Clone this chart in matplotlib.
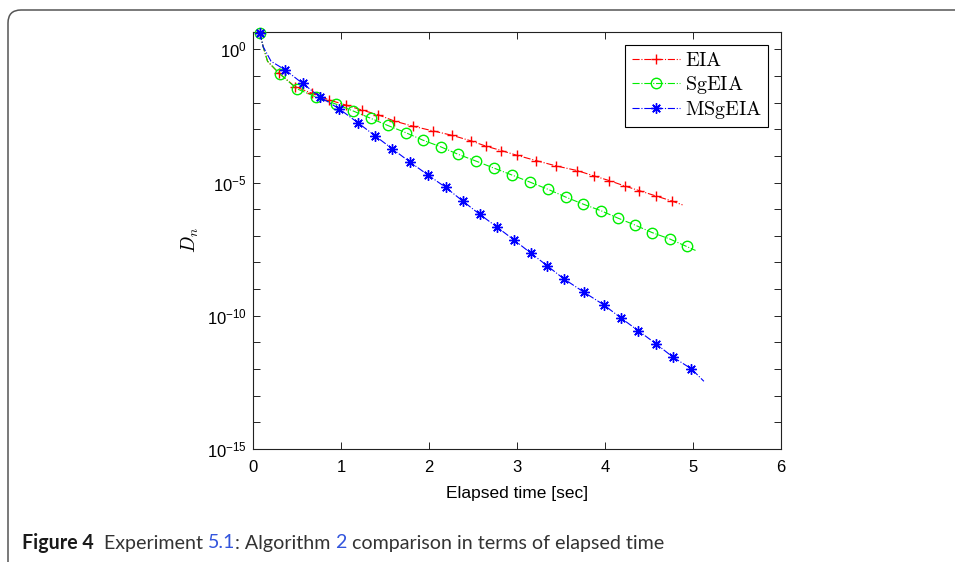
import numpy as np
import matplotlib.pyplot as plt
from matplotlib.patches import FancyBboxPatch
from matplotlib.ticker import FixedLocator, FuncFormatter

plt.rcParams['font.family'] = ['Liberation Sans', 'DejaVu Sans']
plt.rcParams['mathtext.fontset'] = 'custom'
plt.rcParams['mathtext.rm'] = 'Liberation Sans'
plt.rcParams['mathtext.it'] = 'Liberation Sans:italic'

# elapsed time [sec] and log10(D_n)
# first point is the common start, the next two are unmarked bends, last is unmarked line end
eia_t = [0.074, 0.11, 0.16, 0.290, 0.473, 0.663, 0.860, 1.048, 1.232, 1.421, 1.600,
         1.817, 2.039, 2.261, 2.477, 2.648, 2.819, 2.998, 3.218, 3.445, 3.681,
         3.870, 4.049, 4.223, 4.383, 4.573, 4.755, 4.880]
eia_log = [0.61, 0.10, -0.45, -0.90, -1.40, -1.65, -1.90, -2.09, -2.28, -2.46, -2.69,
           -2.89, -3.06, -3.23, -3.44, -3.64, -3.80, -3.98, -4.18, -4.38, -4.55,
           -4.75, -4.93, -5.13, -5.30, -5.50, -5.69, -5.84]

sgeia_t = [0.074, 0.11, 0.16, 0.302, 0.492, 0.712, 0.940, 1.130, 1.333, 1.528, 1.733,
           1.927, 2.130, 2.327, 2.526, 2.736, 2.941, 3.149, 3.354, 3.554, 3.749,
           3.954, 4.148, 4.342, 4.535, 4.736, 4.926, 5.028]
sgeia_log = [0.61, 0.10, -0.45, -0.93, -1.48, -1.79, -2.06, -2.31, -2.59, -2.86, -3.13,
             -3.41, -3.66, -3.94, -4.19, -4.46, -4.72, -4.99, -5.26, -5.55, -5.81,
             -6.06, -6.34, -6.60, -6.88, -7.12, -7.40, -7.55]

msgeia_t = [0.074, 0.11, 0.20, 0.364, 0.558, 0.754, 0.977, 1.185, 1.384, 1.577, 1.779,
            1.982, 2.185, 2.378, 2.572, 2.765, 2.965, 3.155, 3.343, 3.528, 3.756,
            3.984, 4.182, 4.376, 4.581, 4.770, 4.980, 5.123]
msgeia_log = [0.61, 0.10, -0.45, -0.78, -1.28, -1.78, -2.24, -2.75, -3.25, -3.73, -4.23,
              -4.71, -5.18, -5.69, -6.19, -6.66, -7.16, -7.65, -8.13, -8.61, -9.11,
              -9.59, -10.09, -10.56, -11.06, -11.55, -11.99, -12.46]

series = [
    ('EIA', eia_t, eia_log, '#ff0000', '+'),
    ('SgEIA', sgeia_t, sgeia_log, '#00ee00', 'o'),
    ('MSgEIA', msgeia_t, msgeia_log, '#0000ff', (8, 2, 0)),
]

x_ticks = [0, 1, 2, 3, 4, 5, 6]
y_decades = list(range(-15, 1))
y_labelled = [0, -5, -10, -15]

fig = plt.figure(figsize=(9.55, 5.62), dpi=100)
ax = fig.add_axes([0.2654, 0.2011, 0.5524, 0.7425])

for name, t, lg, col, mk in series:
    d = 10.0 ** np.array(lg)
    marked = [0] + list(range(3, len(t) - 1))
    ax.plot(t, d, linestyle='-.', color=col, lw=0.8, marker=mk, markevery=marked,
            markersize=7.5, markeredgewidth=1.0, markerfacecolor='none',
            markeredgecolor=col, label=r'$\mathrm{%s}$' % name, clip_on=False, zorder=3)

ax.set_yscale('log')
ax.set_xlim(0, 6)
ax.set_ylim(1e-15, 10 ** 0.66)
ax.xaxis.set_major_locator(FixedLocator(x_ticks))
ax.yaxis.set_major_locator(FixedLocator([10.0 ** k for k in y_decades]))
ax.yaxis.set_minor_locator(FixedLocator([]))
ax.yaxis.set_major_formatter(FuncFormatter(
    lambda v, p: r'$\mathregular{10^{%d}}$' % round(np.log10(v)) if round(np.log10(v)) in y_labelled else ''))
ax.tick_params(which='both', direction='in', top=True, right=True, length=5, width=0.6,
               labelsize=12)
ax.tick_params(axis='x', pad=8)
ax.tick_params(axis='y', pad=5)
for s in ax.spines.values():
    s.set_linewidth(0.8)
    s.set_color('#222222')

ax.set_xlabel('Elapsed time [sec]', fontsize=12.5, labelpad=8)
yl = ax.set_ylabel(r'$D_n$', fontsize=14, labelpad=4)
yl.set_math_fontfamily('cm')

leg = ax.legend(loc='upper right', bbox_to_anchor=(0.9754, 0.968), borderaxespad=0,
                fancybox=False, framealpha=1, edgecolor='black', fontsize=14.5,
                handlelength=2.4, handletextpad=0.25, labelspacing=0.18,
                borderpad=0.3, numpoints=1)
leg.get_frame().set_linewidth(0.8)
for txt in leg.get_texts():
    txt.set_math_fontfamily('cm')

# frame around the figure, only the top left corner is visible
frame = FancyBboxPatch((8, -60), 1050, 562 - 10 + 60, boxstyle='round,pad=0,rounding_size=13',
                       transform=None, fill=False, edgecolor='#555555', lw=1.1)
fig.patches.append(frame)

# caption with bold lead and blue cross references
parts = [('Figure 4', 'bold', '#1a1a1a'), ('  Experiment ', 'normal', '#333333'),
         ('5.1', 'normal', '#3355dd'), (': Algorithm ', 'normal', '#333333'),
         ('2', 'normal', '#3355dd'), (' comparison in terms of elapsed time', 'normal', '#333333')]
renderer = fig.canvas.get_renderer()
x = 22
for s, w, c in parts:
    t = fig.text(x / 955, 1 - 543 / 562, s, fontsize=14.1, fontweight=w, color=c,
                 family=['Lato', 'DejaVu Sans'], va='center', ha='left')
    x += t.get_window_extent(renderer).width

fig.savefig('out.png', dpi=100)
